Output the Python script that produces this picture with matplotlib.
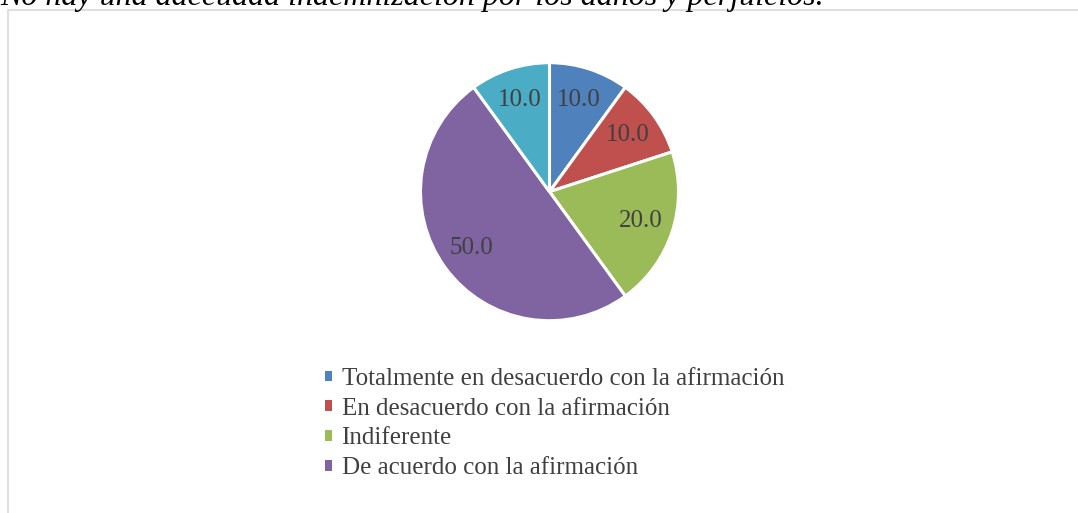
import matplotlib
matplotlib.use("Agg")
import matplotlib.pyplot as plt
from matplotlib.patches import Patch, Rectangle

# -------------------------
# Data
# -------------------------
categories = [
    "Totalmente en desacuerdo con la afirmación",
    "En desacuerdo con la afirmación",
    "Indiferente",
    "De acuerdo con la afirmación",
    "Totalmente de acuerdo con la afirmación",
]
values = [10.0, 10.0, 20.0, 50.0, 10.0]
colors = ["#4F81BD", "#C0504D", "#9BBB59", "#8064A2", "#4BACC6"]
legend_count = 4  # only four entries are visible in the legend
title = "No hay una adecuada indemnización por los daños y perjuicios."

W, H = 1078, 513
fig = plt.figure(figsize=(W / 100, H / 100), dpi=100)
fig.patch.set_facecolor("white")

# chart frame (only left and top edges visible)
frame = Rectangle((8 / W, -0.2), 2.0, 1 - 10 / H + 0.2, transform=fig.transFigure,
                  fill=False, edgecolor="#D9D9D9", linewidth=1.2)
fig.patches.append(frame)

# cropped caption above the frame
cap = fig.text(0.0, 1 - 5.5 / H, title, fontsize=23, fontstyle="italic",
               family="Liberation Serif", color="black", ha="left", va="baseline")
fig.canvas.draw()
w = cap.get_window_extent().width
cap.set_fontsize(23 * 824 / w)

# pie
cx, cy, R = 549.5, 191.7, 129
ax = fig.add_axes([(cx - R) / W, (H - cy - R) / H, 2 * R / W, 2 * R / H])
wedges, texts, autotexts = ax.pie(
    values, colors=colors, startangle=90, counterclock=False,
    autopct=lambda p: f"{p:.1f}", pctdistance=0.745, radius=1,
    wedgeprops=dict(edgecolor="white", linewidth=2.2),
    textprops=dict(fontsize=18, family="Liberation Serif", color="#404040"),
)
ax.set_xlim(-1, 1)
ax.set_ylim(-1, 1)
ax.set_aspect("equal")
ax.axis("off")

handles = [Patch(facecolor=c, edgecolor="none") for c in colors[:legend_count]]
fig.legend(handles, categories[:legend_count], loc="upper left",
           bbox_to_anchor=(325 / W, 1 - 368 / H), frameon=False,
           borderpad=0, borderaxespad=0, handlelength=0.28, handleheight=0.28,
           handletextpad=0.38, labelspacing=0.31,
           prop=dict(family="Liberation Serif", size=18), labelcolor="#404040")

fig.savefig("out.png", dpi=100)
